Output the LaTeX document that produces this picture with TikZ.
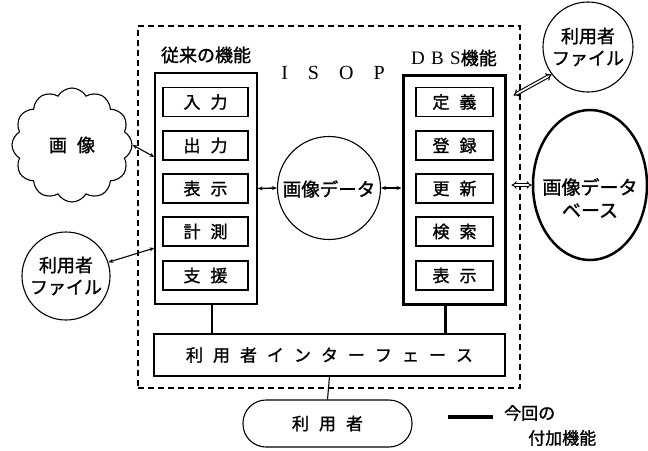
\documentclass[tikz,border=0pt]{standalone}
\usepackage{fontspec}
\setmainfont{Liberation Serif}
\newfontfamily\cjk[FakeBold=1.3]{Noto Sans CJK JP}
\usetikzlibrary{shapes.geometric,shapes.symbols,arrows.meta,calc}
\newcommand{\gp}{\hspace{10pt}}
\begin{document}
\begin{tikzpicture}[x=1pt,y=-1pt,
  every node/.style={inner sep=0pt, font=\cjk\fontsize{17}{23}\selectfont},
  ln/.style={line width=1.1pt},
  colbox/.style={draw, ln, minimum width=102pt, minimum height=231pt},
  item/.style={draw, ln, minimum width=85pt, minimum height=29pt},
  ditem/.style={draw, ln, minimum width=77pt, minimum height=29pt},
  circ/.style={draw, ln, circle},
  thin/.style={ln, {Stealth[length=5pt,width=4pt]}-{Stealth[length=5pt,width=4pt]}},
  dbl/.style={double, double distance=1.6pt, line width=0.9pt, {Implies[length=5pt]}-{Implies[length=5pt]}},
  lbl/.style={font=\cjk\fontsize{18}{22}\selectfont}]
\useasboundingbox (0,0) rectangle (648,450);
% ISOP frame
\node[draw, ln, dash pattern=on 6pt off 4pt, minimum width=382pt, minimum height=362pt] (isop) at (329,207) {};
\node[font=\fontsize{20}{22}\selectfont] (isopt) at (333,73) {I\quad S\quad O\quad P};
% left column
\node[lbl] (ll) at (206,55) {従来の機能};
\node[colbox] (lcol) at (206,188.5) {};
\node[item] (i1) at (205.5,102) {入\gp 力};
\node[item] (i2) at (205.5,145.5) {出\gp 力};
\node[item] (i3) at (205.5,188.5) {表\gp 示};
\node[item] (i4) at (205.5,231.5) {計\gp 測};
\node[item] (i5) at (205.5,275.5) {支\gp 援};
% DBS column
\node[lbl] (dl) at (454,58) {{\rmfamily\fontsize{19}{22}\selectfont D\,\,B\,\,S}機能};
\node[draw, line width=3pt, minimum width=102pt, minimum height=229pt] (dbs) at (454,189.5) {};
\node[ditem] (d1) at (454.5,102) {定\gp 義};
\node[ditem] (d2) at (454.5,145.5) {登\gp 録};
\node[ditem] (d3) at (454.5,188.5) {更\gp 新};
\node[ditem] (d4) at (454.5,231.5) {検\gp 索};
\node[ditem] (d5) at (454.5,275.5) {表\gp 示};
% image data circle
\node[circ, minimum size=103pt] (data) at (329,188) {};
\node[font=\cjk\fontsize{18.5}{22}\selectfont] (datat) at (329,189) {画像データ};
% cloud
\node[draw, ln, cloud, cloud puffs=12, cloud puff arc=120, aspect=1.05, minimum width=120pt, minimum height=114pt, font=\cjk\fontsize{18}{22}\selectfont] (img) at (72,145) {画\gp 像};
% user files
\node[circ, minimum size=88pt, align=center, lbl] (ufl) at (66,276) {利用者\\ファイル};
\node[circ, minimum size=90pt, align=center, lbl] (ufr) at (588,47) {利用者\\ファイル};
% image database ellipse
\node[draw, ellipse, line width=2.5pt, minimum width=114pt, minimum height=150pt] (db) at (590,185) {};
\node[align=center, font=\cjk\fontsize{19}{23}\selectfont] (dbt) at (590,198) {画像データ\\ベース};
% user interface
\node[draw, ln, minimum width=351pt, minimum height=42pt] (ui) at (329.5,355) {利\gp 用\gp 者\gp イ\gp ン\gp タ\gp ー\gp フ\gp ェ\gp ー\gp ス};
\node[draw, ln, rounded corners=23pt, minimum width=169pt, minimum height=47pt] (user) at (327.5,423.5) {利\gp 用\gp 者};
% legend
\coordinate (lg1) at (448,417);
\coordinate (lg2) at (493,417);
\draw[line width=3.5pt] (lg1) -- (lg2);
\node[anchor=west] (lgt1) at (504,413) {今回の};
\node[anchor=west] (lgt2) at (528,438) {付加機能};
% connectors
\draw[thin] (img.east) -- ([yshift=31.5pt]lcol.west);
\draw[thin] (ufl.18) -- ([yshift=-59.5pt]lcol.west);
\draw[thin, line width=1.4pt] (lcol.east) -- (data.west);
\draw[thin, line width=1.4pt] (data.east) -- (dbs.west |- data.east);
\draw[dbl] ([xshift=5pt]dbs.east |- db.west) -- (db.west);
\draw[dbl, line width=1.1pt] ([xshift=7pt,yshift=-22pt]dbs.north east) -- (ufr.217);
\draw[ln] ([xshift=6pt]lcol.south) -- ([xshift=6pt]lcol.south |- ui.north);
\draw[line width=3pt] ([xshift=-9pt]dbs.south) -- ([xshift=-9pt]dbs.south |- ui.north);
\draw[ln] (ui.south) -- (user.north);
\end{tikzpicture}
\end{document}
